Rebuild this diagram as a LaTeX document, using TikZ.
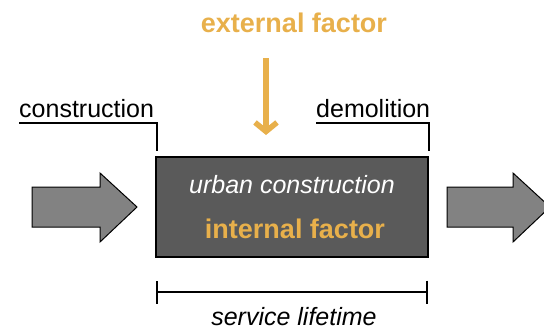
\documentclass[tikz,border=0pt]{standalone}
\usepackage{fontspec}
\setmainfont{Liberation Sans}
\usetikzlibrary{arrows.meta}
\definecolor{ochre}{HTML}{E8B04B}
\definecolor{boxgray}{HTML}{5A5A5A}
\definecolor{flowgray}{HTML}{828282}
\tikzset{
  lbl/.style={inner sep=0pt, font=\fontsize{25}{28}\selectfont},
  factor/.style={inner sep=0pt, text=ochre, font=\fontsize{27}{30}\selectfont\bfseries},
  flow/.style={draw=black, line width=1pt, fill=flowgray, line join=miter},
  hook/.style={line width=1.5pt},
}
\begin{document}
\begin{tikzpicture}[x=1pt,y=-1pt]
\useasboundingbox (0,0) rectangle (544,330);
% urban construction block
\node[draw, line width=2pt, fill=boxgray, minimum width=272pt, minimum height=100pt, inner sep=0pt] (urban) at (292,207){};
\node[lbl, anchor=base, text=white, font=\fontsize{25}{28}\selectfont\itshape] (urbantxt) at (292,193){urban construction};
\node[factor, anchor=base] (internal) at (295,238){internal factor};
% external factor
\node[factor, anchor=base] (external) at (294,32){external factor};
\coordinate (ext0) at (266,58);
\coordinate (ext1) at (266,135);
\draw[line width=5.5pt, ochre, -{Straight Barb[length=9pt,width=22pt]}](ext0) -- (ext1);
% construction and demolition
\node[lbl, anchor=base west] (constr) at (19,117){construction};
\node[lbl, anchor=base west] (demol) at (316,117){demolition};
\coordinate (cend) at (157,151);
\coordinate (dend) at (429,151);
\draw[hook]([yshift=-6pt]constr.base west) -| (cend);
\draw[hook]([yshift=-6pt]demol.base west) -| (dend);
% in and out flows
\draw[flow](32,187) -- (100,187) -- (100,173) -- (137,207) -- (100,242) -- (100,227) -- (32,227) -- cycle;
\draw[flow](447,187) -- (513,187) -- (513,173) -- (550,207) -- (513,242) -- (513,227) -- (447,227) -- cycle;
% service lifetime
\coordinate (life0) at (156,292);
\coordinate (life1) at (428,292);
\draw[line width=2pt, {Bar[width=23pt]}-{Bar[width=23pt]}](life0) -- (life1);
\node[lbl, anchor=base, font=\fontsize{25}{28}\selectfont\itshape] (lifetime) at (294,325){service lifetime};

\end{tikzpicture}
\end{document}
